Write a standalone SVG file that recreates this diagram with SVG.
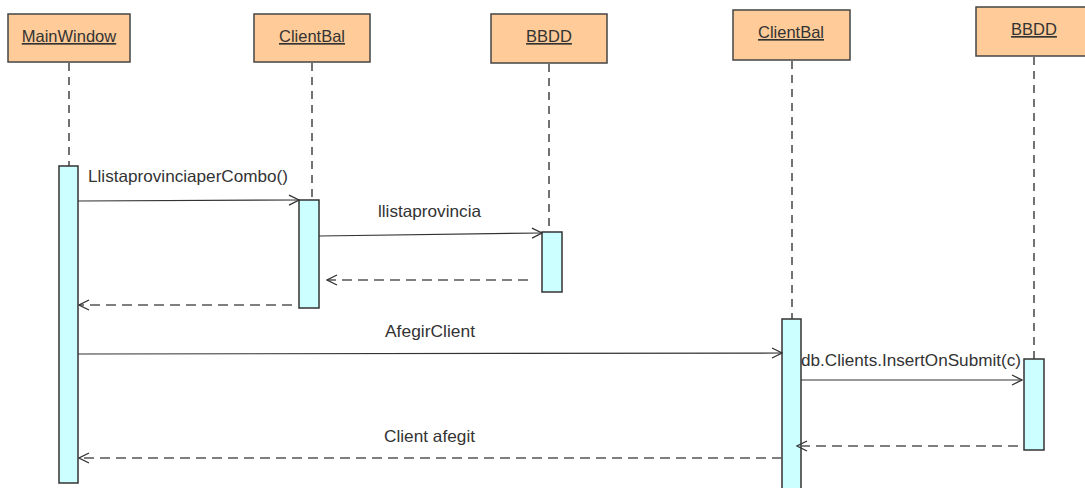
<svg xmlns="http://www.w3.org/2000/svg" width="1085" height="488" viewBox="0 0 1085 488">
<defs>
<style>
.box{fill:#FFCC99;stroke:#444;stroke-width:1.5}
.act{fill:#CCFFFF;stroke:#333;stroke-width:1.5}
.life{stroke:#444;stroke-width:1.5;stroke-dasharray:8 6;fill:none}
.msg{stroke:#333;stroke-width:1.2;fill:none}
.ret{stroke:#555;stroke-width:1.5;stroke-dasharray:10 6;fill:none}
.lbl{font-family:"Liberation Sans",Arial,sans-serif;font-size:16.5px;fill:#333}
.name{font-family:"Liberation Sans",Arial,sans-serif;font-size:16.5px;fill:#333;text-anchor:middle;text-decoration:underline}
</style>
<marker id="open" viewBox="0 0 12 12" refX="11" refY="6" markerWidth="12" markerHeight="12" markerUnits="userSpaceOnUse" orient="auto">
<path d="M1,1 L11,6 L1,11" fill="none" stroke="#333" stroke-width="1.3"/>
</marker>
</defs>
<rect width="1085" height="488" fill="#fff"/>
<g id="lifelines">
<line class="life" x1="69" y1="63" x2="69" y2="166"/>
<line class="life" x1="312" y1="63" x2="312" y2="200"/>
<line class="life" x1="549" y1="64" x2="549" y2="232"/>
<line class="life" x1="792" y1="61" x2="792" y2="319"/>
<line class="life" x1="1034" y1="57" x2="1034" y2="359"/>
</g>
<g id="MainWindow">
<rect class="box" x="8" y="14" width="122" height="48"/>
<text class="name" x="69" y="42">MainWindow</text>
<rect class="act" x="59" y="166" width="19" height="317"/>
</g>
<g id="ClientBal1">
<rect class="box" x="254" y="14" width="116" height="48"/>
<text class="name" x="312" y="42">ClientBal</text>
<rect class="act" x="299" y="200" width="20" height="108"/>
</g>
<g id="BBDD1">
<rect class="box" x="491" y="14" width="116" height="49"/>
<text class="name" x="549" y="42">BBDD</text>
<rect class="act" x="542" y="232" width="20" height="60"/>
</g>
<g id="ClientBal2">
<rect class="box" x="733" y="10" width="117" height="50"/>
<text class="name" x="791" y="38">ClientBal</text>
<rect class="act" x="782" y="319" width="19" height="175"/>
</g>
<g id="BBDD2">
<rect class="box" x="976" y="7" width="116" height="49"/>
<text class="name" x="1034" y="35">BBDD</text>
<rect class="act" x="1024" y="359" width="20" height="91"/>
</g>
<g id="connectors">
<line class="msg" x1="78" y1="201" x2="299" y2="200" marker-end="url(#open)"/>
<line class="msg" x1="319" y1="236" x2="542" y2="233" marker-end="url(#open)"/>
<line class="ret" x1="528" y1="280" x2="327" y2="280" marker-end="url(#open)"/>
<line class="ret" x1="292" y1="305" x2="79" y2="305" marker-end="url(#open)"/>
<line class="msg" x1="78" y1="354" x2="782" y2="353" marker-end="url(#open)"/>
<line class="msg" x1="801" y1="380" x2="1022" y2="380" marker-end="url(#open)"/>
<line class="ret" x1="1018" y1="446" x2="797" y2="446" marker-end="url(#open)"/>
<line class="ret" x1="782" y1="458" x2="79" y2="458" marker-end="url(#open)"/>
</g>
<g id="labels">
<text class="lbl" x="88" y="182" textLength="200" lengthAdjust="spacingAndGlyphs">LlistaprovinciaperCombo()</text>
<text class="lbl" x="378" y="217" textLength="103" lengthAdjust="spacingAndGlyphs">llistaprovincia</text>
<text class="lbl" x="385" y="337" textLength="90" lengthAdjust="spacingAndGlyphs">AfegirClient</text>
<text class="lbl" x="801" y="366" textLength="220" lengthAdjust="spacingAndGlyphs">db.Clients.InsertOnSubmit(c)</text>
<text class="lbl" x="384" y="442" textLength="91" lengthAdjust="spacingAndGlyphs">Client afegit</text>
</g>
</svg>
